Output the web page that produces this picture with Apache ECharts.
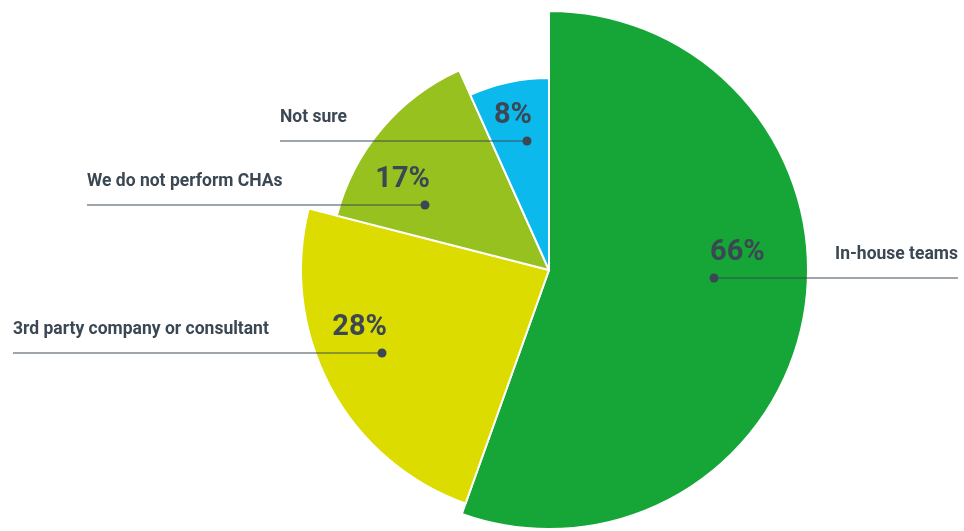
<!DOCTYPE html>
<html>
<head>
<meta charset="utf-8">
<script src="https://cdn.jsdelivr.net/npm/echarts@6/dist/echarts.min.js"></script>
<style>
html,body{margin:0;padding:0;background:#fff;}
#main{width:964px;height:531px;}
</style>
</head>
<body>
<div id="main"></div>
<script>
// Data
const categories = ['In-house teams', '3rd party company or consultant', 'We do not perform CHAs', 'Not sure'];
const values = [66, 28, 17, 8];

// Styling (not data)
const colors = ['#15a637', '#dcdc00', '#96c11f', '#0bb9ec'];
const radii = [259, 248, 219, 192];
const center = [549, 270];
const textColor = '#3b4853';
// annotation layout: dot position, line end x, side
const annot = [
  {dot: [714, 278], lineEnd: 958, side: 'right'},
  {dot: [382, 353], lineEnd: 13, side: 'left'},
  {dot: [425, 205], lineEnd: 87, side: 'left'},
  {dot: [527, 141], lineEnd: 280, side: 'left'}
];

const chart = echarts.init(document.getElementById('main'));

const series = categories.map((name, i) => ({
  type: 'pie',
  center: center,
  radius: [0, radii[i]],
  startAngle: 90,
  clockwise: true,
  silent: true,
  animation: false,
  label: {show: false},
  labelLine: {show: false},
  emphasis: {disabled: true},
  z: 2,
  data: categories.map((c, j) => ({
    name: c,
    value: values[j],
    itemStyle: j === i
      ? {color: colors[j], borderColor: '#ffffff', borderWidth: 2}
      : {color: 'rgba(0,0,0,0)', borderWidth: 0}
  }))
}));

const graphic = [];
annot.forEach((a, i) => {
  const x0 = a.dot[0], y = a.dot[1];
  graphic.push({
    type: 'line', z: 10,
    shape: {x1: x0, y1: y, x2: a.lineEnd, y2: y},
    style: {stroke: 'rgba(59,72,83,0.65)', lineWidth: 1.5}
  });
  graphic.push({
    type: 'circle', z: 11,
    shape: {cx: x0, cy: y, r: 4.5},
    style: {fill: textColor}
  });
  // percentage label
  graphic.push({
    type: 'text', z: 12,
    x: a.side === 'right' ? x0 - 4 : x0 + 5,
    y: y - 25,
    style: {
      text: values[i] + '%',
      fill: textColor,
      font: 'bold 29px Roboto, "Open Sans", sans-serif',
      textAlign: a.side === 'right' ? 'left' : 'right',
      textVerticalAlign: 'middle'
    }
  });
  // category label
  graphic.push({
    type: 'text', z: 12,
    x: a.lineEnd,
    y: y - 23,
    style: {
      text: categories[i],
      fill: textColor,
      font: 'bold 17.5px Roboto, "Open Sans", sans-serif',
      textAlign: a.side === 'right' ? 'right' : 'left',
      textVerticalAlign: 'middle'
    }
  });
});

chart.setOption({
  backgroundColor: '#ffffff',
  animation: false,
  series: series,
  graphic: graphic
});
</script>
</body>
</html>
